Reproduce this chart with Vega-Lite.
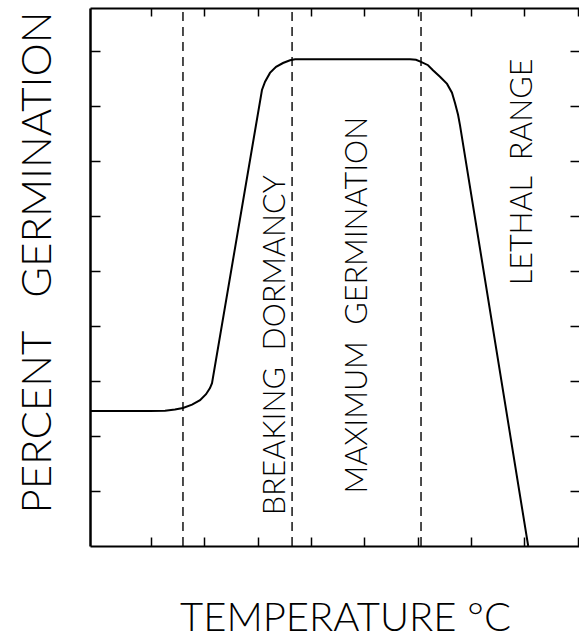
{
  "$schema": "https://vega.github.io/schema/vega-lite/v6.json",
  "width": 489,
  "height": 538,
  "autosize": {"type": "none"},
  "padding": {"left": 90, "top": 8, "right": 0, "bottom": 92},
  "background": "white",
  "config": {"view": {"stroke": null}, "font": "Lato"},
  "datasets": {
    "curve": [
      {"temp": -0.7, "pct": 24.55},
      {"temp": 4.92, "pct": 24.55},
      {"temp": 6.33, "pct": 24.6},
      {"temp": 7.26, "pct": 24.8},
      {"temp": 8.01, "pct": 25.1},
      {"temp": 8.86, "pct": 25.7},
      {"temp": 9.61, "pct": 26.5},
      {"temp": 10.17, "pct": 27.6},
      {"temp": 10.54, "pct": 28.7},
      {"temp": 10.73, "pct": 29.6},
      {"temp": 15.41, "pct": 82.9},
      {"temp": 15.7, "pct": 84.4},
      {"temp": 16.16, "pct": 86.0},
      {"temp": 16.73, "pct": 87.1},
      {"temp": 17.38, "pct": 87.8},
      {"temp": 18.04, "pct": 88.3},
      {"temp": 18.51, "pct": 88.5},
      {"temp": 29.28, "pct": 88.5},
      {"temp": 29.84, "pct": 88.4},
      {"temp": 30.31, "pct": 88.0},
      {"temp": 30.97, "pct": 87.4},
      {"temp": 31.43, "pct": 86.5},
      {"temp": 32.09, "pct": 85.3},
      {"temp": 32.75, "pct": 84.0},
      {"temp": 33.21, "pct": 82.4},
      {"temp": 33.5, "pct": 80.5},
      {"temp": 33.78, "pct": 78.4},
      {"temp": 33.96, "pct": 76.5},
      {"temp": 40.35, "pct": 0}
    ],
    "bounds": [
      {"temp": 8.01},
      {"temp": 18.23},
      {"temp": 30.31}
    ],
    "labels": [
      {"label": "BREAKING\u00a0\u00a0DORMANCY", "temp": 16.7, "pct": 36.5},
      {"label": "MAXIMUM\u00a0\u00a0GERMINATION", "temp": 24.45, "pct": 43.8},
      {"label": "LETHAL\u00a0\u00a0RANGE", "temp": 39.87, "pct": 68}
    ]
  },
  "layer": [
    {
      "data": {"name": "curve"},
      "mark": {"type": "line", "color": "black", "strokeWidth": 2, "clip": true},
      "encoding": {
        "x": {
          "field": "temp", "type": "quantitative",
          "scale": {"domain": [-0.7, 45.11], "nice": false, "zero": false},
          "axis": {
            "orient": "bottom", "values": [5, 10, 15, 20, 25, 30, 35, 40, 45],
            "labels": false, "grid": false,
            "domain": true, "domainColor": "black", "domainWidth": 2,
            "ticks": true, "tickColor": "black", "tickWidth": 1.5, "tickSize": -9,
            "title": "TEMPERATURE °C", "titleFont": "Lato", "titleFontSize": 40,
            "titleFontWeight": 300, "titleColor": "black",
            "titleX": 255, "titleY": 72, "titleAlign": "center", "titleBaseline": "middle"
          }
        },
        "y": {
          "field": "pct", "type": "quantitative",
          "scale": {"domain": [0, 97.8], "nice": false, "zero": false},
          "axis": {
            "orient": "left", "values": [10, 20, 30, 40, 50, 60, 70, 80, 90],
            "labels": false, "grid": false,
            "domain": true, "domainColor": "black", "domainWidth": 2.5,
            "ticks": true, "tickColor": "black", "tickWidth": 1.5, "tickSize": -10,
            "title": "PERCENT\u00a0\u00a0\u00a0GERMINATION", "titleFont": "Lato", "titleFontSize": 42,
            "titleFontWeight": 300, "titleColor": "black", "titleAngle": 270,
            "titleX": -53, "titleY": 254, "titleAlign": "center", "titleBaseline": "middle"
          }
        }
      }
    },
    {
      "data": {"name": "bounds"},
      "mark": {"type": "rule", "color": "black", "strokeWidth": 1.4, "strokeDash": [9, 6]},
      "encoding": {
        "x": {
          "field": "temp", "type": "quantitative",
          "scale": {"domain": [-0.7, 45.11], "nice": false, "zero": false},
          "axis": {
            "orient": "top", "values": [5, 10, 15, 20, 25, 30, 35, 40, 45],
            "labels": false, "grid": false, "title": null,
            "domain": true, "domainColor": "black", "domainWidth": 2,
            "ticks": true, "tickColor": "black", "tickWidth": 1.5, "tickSize": -8
          }
        },
        "y": {
          "datum": 0, "type": "quantitative",
          "scale": {"domain": [0, 97.8], "nice": false, "zero": false},
          "axis": {
            "orient": "right", "values": [10, 20, 30, 40, 50, 60, 70, 80, 90],
            "labels": false, "grid": false, "title": null,
            "domain": false,
            "ticks": true, "tickColor": "black", "tickWidth": 1.5, "tickSize": -9
          }
        },
        "y2": {"datum": 97.8}
      }
    },
    {
      "data": {"name": "labels"},
      "mark": {"type": "text", "angle": 270, "align": "center", "baseline": "middle", "font": "Lato", "fontSize": 30.5, "fontWeight": 300, "color": "black"},
      "encoding": {
        "x": {"field": "temp", "type": "quantitative", "scale": {"domain": [-0.7, 45.11], "nice": false, "zero": false}, "axis": null},
        "y": {"field": "pct", "type": "quantitative", "scale": {"domain": [0, 97.8], "nice": false, "zero": false}, "axis": null},
        "text": {"field": "label"}
      }
    }
  ],
  "resolve": {"axis": {"x": "independent", "y": "independent"}}
}
